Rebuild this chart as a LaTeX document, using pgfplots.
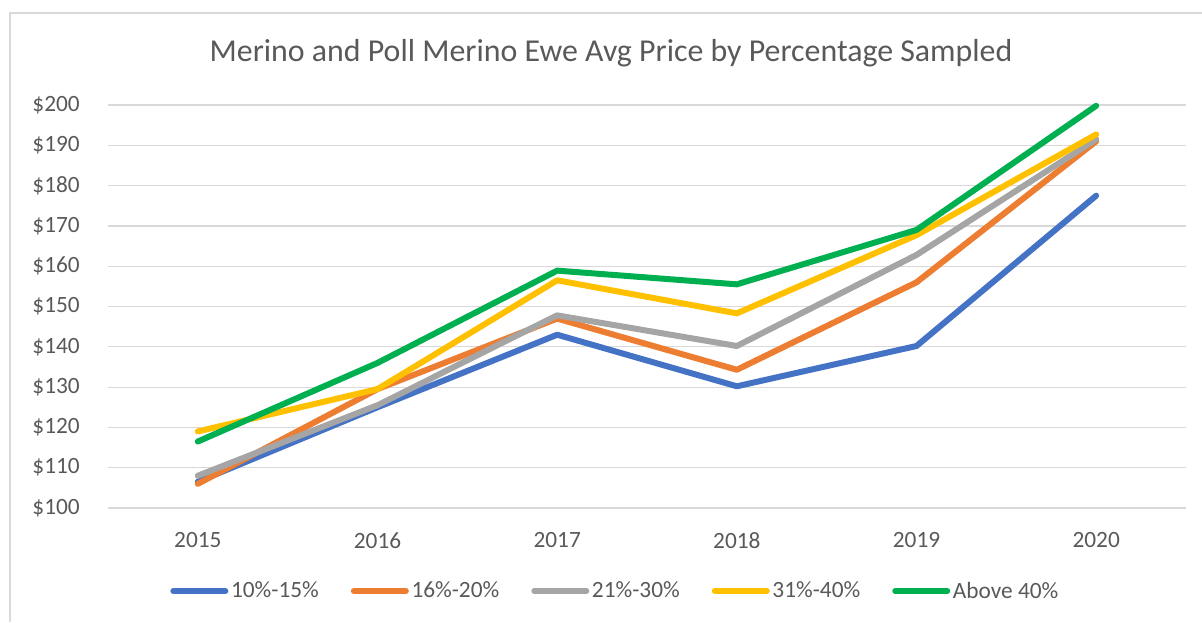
\documentclass[border=0pt]{standalone}
\usepackage{pgfplots}
\pgfplotsset{compat=1.18}
\usepackage{fontspec}
\setmainfont{Carlito}
\definecolor{cblue}{HTML}{4472C4}
\definecolor{corange}{HTML}{ED7D31}
\definecolor{cgray}{HTML}{A5A5A5}
\definecolor{cyellow}{HTML}{FFC000}
\definecolor{cgreen}{HTML}{00B050}
\definecolor{gridc}{HTML}{D9D9D9}
\definecolor{txt}{HTML}{595959}
\begin{document}
\begin{tikzpicture}
\path[use as bounding box] (-81pt,-85.5pt) rectangle (820.5pt,381pt);
\draw[gridc, line width=0.9pt] (-73.5pt,-85.5pt) -- (-73.5pt,371.25pt) -- (820.5pt,371.25pt);
\begin{axis}[
  at={(0,0)}, anchor=south west,
  scale only axis, width=808.5pt, height=302.25pt,
  xmin=2014.5, xmax=2020.5, ymin=100, ymax=200,
  xtick={2015,2016,2017,2018,2019,2020},
  ytick={100,110,...,200},
  /pgf/number format/assume math mode=true,
  /pgf/number format/1000 sep={},
  xticklabel style={/pgf/number format/1000 sep={}},
  yticklabel={\$\pgfmathprintnumber{\tick}},
  axis line style={draw=none},
  major tick length=0pt,
  ymajorgrids, grid style={gridc, line width=0.9pt},
  tick label style={font=\fontsize{17.5}{21}\selectfont, text=txt},
  yticklabel style={anchor=east, inner sep=0pt, xshift=-21pt},
  xticklabel style={anchor=north, inner sep=0pt, yshift=-18pt},
  title={Merino and Poll Merino Ewe Avg Price by Percentage Sampled},
  title style={at={(0.4666,1)}, anchor=center, yshift=33pt, font=\fontsize{23.9}{28}\selectfont, text=txt},
  legend columns=5,
  legend style={at={(0.471,0)}, anchor=center, yshift=-62.25pt, draw=none, fill=none,
    font=\fontsize{17.5}{21}\selectfont, text=txt,
    nodes={inner sep=2pt},
    /tikz/every odd column/.append style={column sep=0pt},
    /tikz/every even column/.append style={column sep=22pt}},
  legend image code/.code={\draw[#1, line cap=round] (0pt,0pt) -- (39pt,0pt);},
  every axis plot/.append style={line width=4.5pt, line cap=round, line join=round},
  clip=false,
]
\addplot[cblue] coordinates {(2015,106.5) (2016,125) (2017,143) (2018,130.2) (2019,140.2) (2020,177.5)};
\addplot[corange] coordinates {(2015,106) (2016,129.5) (2017,147) (2018,134.3) (2019,156) (2020,191)};
\addplot[cgray] coordinates {(2015,108) (2016,125.5) (2017,147.8) (2018,140.2) (2019,162.8) (2020,191.5)};
\addplot[cyellow] coordinates {(2015,119) (2016,129.5) (2017,156.5) (2018,148.3) (2019,167.7) (2020,192.7)};
\addplot[cgreen] coordinates {(2015,116.5) (2016,136) (2017,158.9) (2018,155.5) (2019,169) (2020,199.8)};
\legend{10\%-15\%, 16\%-20\%, 21\%-30\%, 31\%-40\%, Above 40\%}
\end{axis}
\end{tikzpicture}
\end{document}
